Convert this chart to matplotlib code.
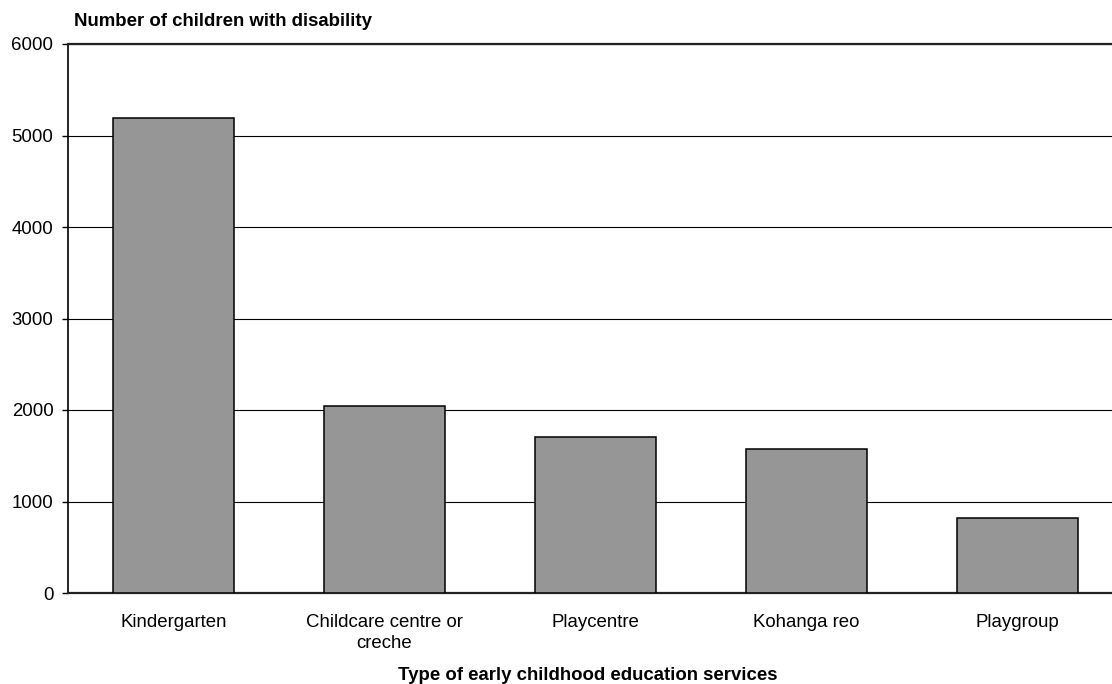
import matplotlib
matplotlib.use("Agg")
import matplotlib.pyplot as plt
import numpy as np

plt.rcParams['font.family'] = ['Liberation Sans', 'DejaVu Sans']

# data
services = ["Kindergarten", "Childcare centre or\ncreche", "Playcentre", "Kohanga reo", "Playgroup"]
children = [5190, 2040, 1710, 1575, 820]
yticks = [0, 1000, 2000, 3000, 4000, 5000, 6000]

fig = plt.figure(figsize=(11.12, 6.84), dpi=100)
# axes runs a bit past the right edge, like the original
ax = fig.add_axes([68/1112, 91/684, 1055/1112, 549/684])

x = np.arange(len(services))
ax.bar(x, children, width=0.573, color="#969696", edgecolor="black", linewidth=1.1, zorder=3)

ax.set_xlim(-0.5, len(services) - 0.5)
ax.set_ylim(0, 6000)
ax.set_yticks(yticks)
ax.set_yticklabels([str(v) for v in yticks], fontsize=13.4)
ax.set_xticks(x)
ax.set_xticklabels(services, fontsize=13.4, linespacing=1.35)
ax.tick_params(axis="x", length=0, pad=15)
ax.tick_params(axis="y", length=4.5, width=1, pad=6)

ax.yaxis.grid(True, color="black", linewidth=0.8, zorder=0)
ax.set_axisbelow(True)

ax.spines["right"].set_visible(False)
ax.spines["top"].set_linewidth(1.6)
ax.spines["bottom"].set_linewidth(1.6)
ax.spines["left"].set_linewidth(1.2)
ax.spines["top"].set_color("#222222")
ax.spines["bottom"].set_color("#222222")

fig.text(223/1112, 1 - 22/684, "Number of children with disability", fontsize=13.4,
         fontweight="bold", ha="center", va="center")
fig.text(588/1112, 1 - 676/684, "Type of early childhood education services", fontsize=13.4,
         fontweight="bold", ha="center", va="center")

fig.savefig("out.png", dpi=100)
